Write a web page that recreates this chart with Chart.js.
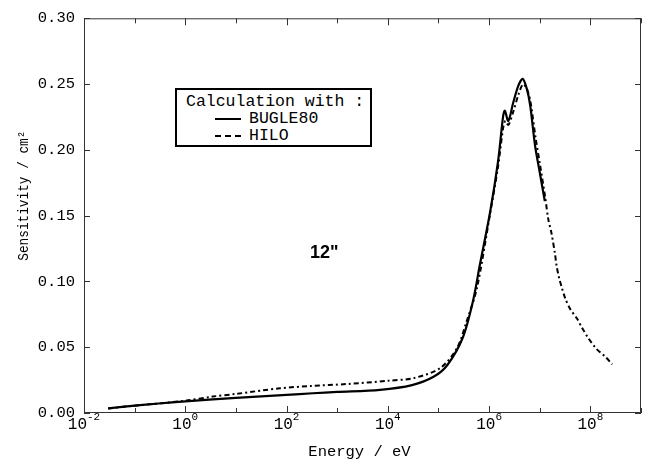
<!DOCTYPE html>
<html><head><meta charset="utf-8">
<script src="https://cdn.jsdelivr.net/npm/chart.js@4.4.1/dist/chart.umd.min.js"></script>
<style>
html,body{margin:0;padding:0;background:#fff;}
#wrap{position:relative;width:647px;height:468px;}
canvas{display:block;}
#legend{position:absolute;left:175px;top:88px;width:193px;height:55px;border:2.5px solid #000;background:#fff;font-family:"Liberation Mono","DejaVu Sans Mono",monospace;font-size:16.5px;color:#000;line-height:17px;}
#legend .t{position:absolute;left:9px;top:3px;white-space:pre;}
#legend .r{position:absolute;left:38px;white-space:pre;}
#legend .s{display:inline-block;width:26px;vertical-align:middle;margin-right:8px;}
#note{position:absolute;left:310px;top:242px;font-family:"Liberation Sans",Arial,sans-serif;font-weight:bold;font-size:18px;color:#000;}
</style></head>
<body>
<div id="wrap">
<canvas id="c" width="647" height="468"></canvas>
<div id="legend">
  <div class="t">Calculation with :</div>
  <div class="r" style="top:20px"><span class="s" style="border-top:2px solid #000"></span>BUGLE80</div>
  <div class="r" style="top:37px"><span class="s" style="border-top:2px dashed #000"></span>HILO</div>
</div>
<div id="note">12"</div>
</div>
<script>
// ---- data (energy in eV, sensitivity in cm^2) ----
const bugleEnergy = [3e-2, 7e-2, 3e-1, 1, 3.5, 1e1, 1e2, 3.3e2, 1e3, 7e3, 3e4, 8e4, 1.5e5, 3e5, 4.8e5, 6.6e5, 1.05e6, 1.5e6, 1.9e6, 2.05e6, 2.4e6, 3.0e6, 3.8e6, 4.6e6, 5.6e6, 6.5e6, 8.1e6, 1.0e7, 1.26e7];
const bugleSens   = [0.0035, 0.005, 0.0072, 0.0088, 0.0104, 0.0115, 0.0138, 0.015, 0.016, 0.0176, 0.0212, 0.0275, 0.0365, 0.057, 0.085, 0.113, 0.153, 0.191, 0.226, 0.2297, 0.222, 0.236, 0.249, 0.254, 0.246, 0.2335, 0.203, 0.183, 0.161];

const hiloEnergy = [3e-2, 1e-1, 1, 3.5, 1e1, 7.4e1, 3e2, 1.55e3, 1e4, 3.2e4, 1.07e5, 2.3e5, 3.6e5, 5.75e5, 1e6, 1.5e6, 1.9e6, 2.1e6, 2.4e6, 3.0e6, 3.8e6, 4.7e6, 5.75e6, 6.6e6, 8.3e6, 1e7, 1.26e7, 1.48e7, 1.7e7, 2e7, 2.15e7, 2.4e7, 2.7e7, 3.2e7, 4e7, 5.4e7, 6.8e7, 9.1e7, 1.3e8, 1.95e8, 2.7e8];
const hiloSens   = [0.0035, 0.0055, 0.0093, 0.0125, 0.0145, 0.0188, 0.0205, 0.022, 0.0245, 0.0265, 0.034, 0.049, 0.0696, 0.095, 0.147, 0.187, 0.217, 0.222, 0.219, 0.229, 0.242, 0.250, 0.245, 0.236, 0.209, 0.19, 0.166, 0.147, 0.137, 0.121, 0.112, 0.103, 0.096, 0.087, 0.079, 0.072, 0.065, 0.057, 0.049, 0.043, 0.037];

const xTickValues = [1e-2, 1e-1, 1e0, 1e1, 1e2, 1e3, 1e4, 1e5, 1e6, 1e7, 1e8, 1e9];
const xTickBase = '10';
const xTickExponents = ['-2', '', '0', '', '2', '', '4', '', '6', '', '8', ''];
const yTickValues = [0, 0.05, 0.10, 0.15, 0.20, 0.25, 0.30];
const yTickLabels = ['0.00', '0.05', '0.10', '0.15', '0.20', '0.25', '0.30'];
const xTitle = 'Energy / eV';
const yTitle = 'Sensitivity / cm\u00B2';

const mono = '"Liberation Mono","DejaVu Sans Mono",monospace';

const framePlugin = {
  id: 'frame',
  afterDraw(chart) {
    const {ctx, chartArea: a, scales: {x, y}} = chart;
    ctx.save();
    ctx.strokeStyle = '#333';
    ctx.lineWidth = 1;
    ctx.strokeRect(a.left + 0.5, a.top + 0.5, a.right - a.left - 1, a.bottom - a.top - 1);
    ctx.beginPath();
    x.ticks.forEach((t, i) => {
      const px = Math.round(x.getPixelForValue(t.value)) + 0.5;
      const len = xTickExponents[i] ? 7 : 5;
      ctx.moveTo(px, a.bottom); ctx.lineTo(px, a.bottom - len);
      ctx.moveTo(px, a.top); ctx.lineTo(px, a.top + len);
    });
    y.ticks.forEach(t => {
      const py = Math.round(y.getPixelForValue(t.value)) + 0.5;
      ctx.moveTo(a.left, py); ctx.lineTo(a.left + 6, py);
      ctx.moveTo(a.right, py); ctx.lineTo(a.right - 6, py);
    });
    ctx.stroke();
    ctx.fillStyle = '#000';
    ctx.textBaseline = 'alphabetic';
    ctx.textAlign = 'left';
    const baseFont = '16px ' + mono, expFont = '11px ' + mono;
    x.ticks.forEach((t, i) => {
      const ex = xTickExponents[i];
      if (!ex) return;
      const px = x.getPixelForValue(t.value);
      ctx.font = baseFont; const wb = ctx.measureText(xTickBase).width;
      ctx.font = expFont; const we = ctx.measureText(ex).width;
      const x0 = px - (wb + we) / 2;
      ctx.font = baseFont; ctx.fillText(xTickBase, x0, a.bottom + 16);
      ctx.font = expFont; ctx.fillText(ex, x0 + wb, a.bottom + 7);
    });
    ctx.font = '15.5px ' + mono;
    ctx.textAlign = 'center';
    ctx.textBaseline = 'middle';
    ctx.fillText(xTitle, (a.left + a.right) / 2 - 3, a.bottom + 39);
    ctx.save();
    ctx.translate(24, (a.top + a.bottom) / 2 - 20);
    ctx.rotate(-Math.PI / 2);
    ctx.scale(0.88, 1);
    ctx.font = '14.5px ' + mono;
    ctx.fillText(yTitle, 0, 0);
    ctx.restore();
    ctx.restore();
  }
};

new Chart(document.getElementById('c'), {
  type: 'line',
  data: {
    datasets: [
      { label: 'BUGLE80', data: bugleEnergy.map((e, i) => ({x: e, y: bugleSens[i]})),
        borderColor: '#000', borderWidth: 2.2, pointRadius: 0, tension: 0.3, fill: false },
      { label: 'HILO', data: hiloEnergy.map((e, i) => ({x: e, y: hiloSens[i]})),
        borderColor: '#000', borderWidth: 2, borderDash: [5, 3, 2, 3], pointRadius: 0, tension: 0.3, fill: false }
    ]
  },
  options: {
    responsive: false,
    animation: false,
    layout: { padding: { left: 0, right: 6, top: 14, bottom: 0 } },
    plugins: { legend: { display: false }, tooltip: { enabled: false } },
    scales: {
      x: {
        type: 'logarithmic', min: 1e-2, max: 1e9,
        afterBuildTicks: s => { s.ticks = xTickValues.map(v => ({value: v})); },
        afterFit: s => { s.height = 55; },
        grid: { display: false, drawTicks: false }, border: { display: false },
        ticks: { autoSkip: false, maxRotation: 0, display: false },
        title: { display: false }
      },
      y: {
        type: 'linear', min: 0, max: 0.3,
        afterBuildTicks: s => { s.ticks = yTickValues.map(v => ({value: v})); },
        afterFit: s => { s.width = 84; },
        grid: { display: false, drawTicks: false }, border: { display: false },
        ticks: { padding: 9, color: '#000', font: { family: mono, size: 15.5 }, callback: (v, i) => yTickLabels[i] },
        title: { display: false }
      }
    }
  },
  plugins: [framePlugin]
});
</script>
</body></html>
